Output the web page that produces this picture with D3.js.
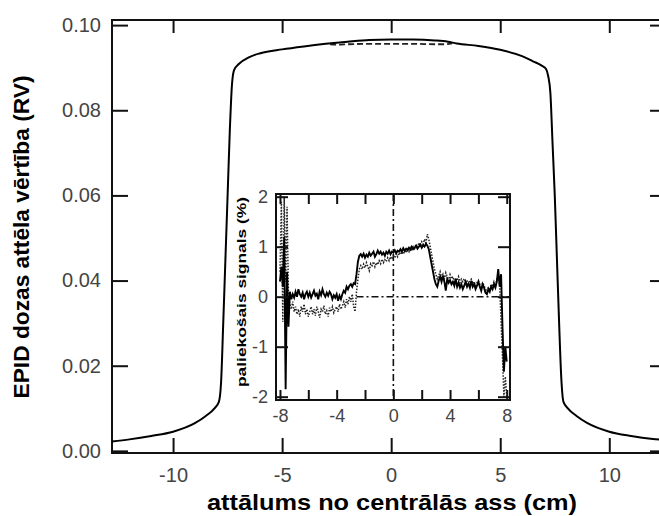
<!DOCTYPE html>
<html>
<head>
<meta charset="utf-8">
<script src="https://cdn.jsdelivr.net/npm/d3@7"></script>
<style>
  body { margin: 0; background: #fff; }
  text { font-family: "Liberation Sans", Arial, sans-serif; }
</style>
</head>
<body>
<svg id="chart" width="659" height="516"></svg>
<script>
// main profile (cm, RV)
const profileX = [-12.8, -12, -11, -10, -9, -8.5, -8.1, -7.9, -7.8, -7.7, -7.6, -7.5, -7.4, -7.3, -7.2, -7.0,
	-6.5, -6.0, -5.0, -4.0, -3.0, -2.0, -1.0, 0, 1.0, 2.0, 2.6, 3.0, 4.0, 5.0, 6.0, 6.5, 6.9, 7.1, 7.2, 7.3,
	7.4, 7.5, 7.6, 7.7, 7.8, 7.9, 8.1, 8.5, 9.0, 10.0, 11.0, 12.0, 12.7];
const profileSolid = [0.0022, 0.0027, 0.0035, 0.0045, 0.0065, 0.0082, 0.0100, 0.0115, 0.016, 0.030, 0.045, 0.060,
	0.075, 0.086, 0.0895, 0.0908, 0.0925, 0.0934, 0.0943, 0.0950, 0.0956, 0.0961, 0.0965, 0.0966, 0.0966, 0.0964,
	0.0961, 0.0957, 0.0951, 0.0942, 0.0927, 0.0915, 0.0905, 0.0897, 0.088, 0.084, 0.072, 0.060, 0.045, 0.030,
	0.017, 0.0115, 0.0100, 0.0082, 0.0065, 0.0045, 0.0035, 0.0028, 0.0025];
const dashX = [-2.8, -2.4, -2.0, -1.0, 0, 1.0, 2.0, 2.4, 2.8];
const profileDashed = [0.0955, 0.0954, 0.0955, 0.0956, 0.0956, 0.0956, 0.0955, 0.0955, 0.0957];

const mainXTicks = [-10, -5, 0, 5, 10];
const mainYTicks = [0, 0.02, 0.04, 0.06, 0.08, 0.10];

// inset: residual signal (%), sampled every 0.1 cm from -8 to 8
const insetSolid = [
	0.3, 0.6, 0.2, 1.2, -1.85, 0.5, -0.6, 0.1, -0.05, 0.05,
	-0.02, 0.1, 0.0, 0.15, 0.05, 0.0, 0.08, -0.05, 0.05, 0.1,
	0.0, 0.08, -0.02, 0.05, 0.12, 0.02, 0.06, -0.05, 0.1, 0.03,
	0.15, 0.05, 0.0, 0.08, 0.02, 0.1, 0.05, -0.05, 0.03, -0.02,
	0.05, -0.08, 0.02, -0.05, 0.05, 0.12, 0.08, 0.2, 0.15, 0.22,
	0.25, 0.2, 0.27, 0.25, 0.45, 0.7, 0.82, 0.85, 0.8, 0.86,
	0.78, 0.84, 0.8, 0.88, 0.82, 0.86, 0.9, 0.8, 0.85, 0.92,
	0.86, 0.9, 0.84, 0.88, 0.82, 0.9, 0.86, 0.92, 0.85, 0.9,
	0.88, 0.93, 0.87, 0.92, 0.9, 0.95, 0.9, 0.97, 0.92, 0.96,
	0.93, 0.98, 0.94, 1.0, 0.95, 0.98, 1.02, 0.96, 1.0, 1.04,
	0.98, 1.03, 1.0, 1.06, 1.02, 0.95, 0.8, 0.65, 0.5, 0.35,
	0.25, 0.2, 0.32, 0.4, 0.3, 0.42, 0.3, 0.12, 0.35, 0.28,
	0.33, 0.25, 0.3, 0.22, 0.35, 0.2, 0.28, 0.18, 0.25, 0.15,
	0.22, 0.3, 0.2, 0.26, 0.18, 0.32, 0.2, 0.25, 0.15, 0.22,
	0.3, 0.2, 0.12, 0.25, 0.18, 0.08, 0.05, 0.15, 0.1, 0.2,
	0.15, 0.25, 0.18, 0.3, 0.55, 0.2, 0.45, -0.6, -1.5, -1.0,
	-1.3];
const insetDotted = [
	0.5, 1.9, -0.5, 2.0, 0.3, 1.8, 0.0, -0.15, -0.25, -0.1,
	-0.3, -0.2, -0.35, -0.25, -0.4, -0.2, -0.3, -0.15, -0.35, -0.25,
	-0.4, -0.3, -0.2, -0.35, -0.25, -0.38, -0.2, -0.3, -0.42, -0.25,
	-0.3, -0.18, -0.35, -0.28, -0.4, -0.22, -0.3, -0.2, -0.32, -0.25,
	-0.2, -0.3, -0.15, -0.25, -0.18, -0.1, -0.22, -0.05, -0.15, 0.0,
	-0.1, 0.05, -0.2, -0.3, 0.1, 0.35, 0.55, 0.62, 0.55, 0.65,
	0.58, 0.68, 0.6, 0.52, 0.66, 0.62, 0.7, 0.6, 0.68, 0.64,
	0.72, 0.66, 0.75, 0.68, 0.74, 0.7, 0.78, 0.72, 0.8, 0.75,
	0.82, 0.78, 0.86, 0.8, 0.88, 0.84, 0.9, 0.85, 0.92, 0.88,
	0.95, 0.9, 0.98, 0.94, 1.0, 0.96, 1.05, 0.98, 1.08, 1.02,
	1.1, 1.05, 1.15, 1.08, 1.25, 1.15, 1.0, 0.85, 0.7, 0.55,
	0.45, 0.35, 0.42, 0.5, 0.38, 0.45, 0.35, 0.48, 0.4, 0.32,
	0.44, 0.36, 0.4, 0.3, 0.38, 0.32, 0.4, 0.28, 0.35, 0.3,
	0.36, 0.28, 0.33, 0.25, 0.32, 0.35, 0.26, 0.3, 0.22, 0.28,
	0.32, 0.25, 0.2, 0.28, 0.22, 0.15, 0.1, 0.18, 0.15, 0.25,
	0.2, 0.3, 0.22, 0.35, 0.4, 0.25, -0.5, -1.2, -2.0, -1.6,
	-2.0];
const insetX = d3.range(-80, 81).map(i => i / 10);

const insetXTicks = [-8, -6, -4, -2, 0, 2, 4, 6, 8];
const insetXLabels = [-8, -4, 0, 4, 8];
const insetYTicks = [-2, -1, 0, 1, 2];

const svg = d3.select('#chart');

function styleTicks(g, size) {
	g.selectAll('.tick line').attr('stroke', '#111').attr('stroke-width', 2);
	g.selectAll('.tick text')
		.attr('font-size', size)
		.attr('fill', '#444')
		.style('font-family', '"Liberation Sans", Arial, sans-serif');
}

function drawMain() {
	const x = d3.scaleLinear().domain([-12.8, 12.6]).range([112, 666]),
		y = d3.scaleLinear().domain([-0.0005, 0.1012]).range([453, 20]);

	const g = svg.append('g');

	g.append('rect')
		.attr('x', 112).attr('y', 20)
		.attr('width', 554).attr('height', 433)
		.attr('fill', 'none')
		.attr('stroke', '#111')
		.attr('stroke-width', 2);

	g.append('g')
		.attr('transform', 'translate(112,0)')
		.call(d3.axisLeft(y).tickValues(mainYTicks).tickSize(-16).tickPadding(11).tickFormat(d => d.toFixed(2)))
		.call(a => a.select('.domain').remove());
	g.append('g')
		.attr('transform', 'translate(666,0)')
		.call(d3.axisRight(y).tickValues(mainYTicks).tickSize(-16).tickFormat(''))
		.call(a => a.select('.domain').remove());
	g.append('g')
		.attr('transform', 'translate(0,453)')
		.call(d3.axisBottom(x).tickValues(mainXTicks).tickSize(-15).tickPadding(15).tickFormat(d => String(d)))
		.call(a => a.select('.domain').remove());
	g.append('g')
		.attr('transform', 'translate(0,20)')
		.call(d3.axisTop(x).tickValues(mainXTicks).tickSize(-13).tickFormat(''))
		.call(a => a.select('.domain').remove());

	styleTicks(g, '20px');

	const line = d3.line()
		.x(d => x(d[0]))
		.y(d => y(d[1]))
		.curve(d3.curveMonotoneX);

	g.append('path')
		.datum(dashX.map((v, i) => [v, profileDashed[i]]))
		.attr('d', line)
		.attr('fill', 'none')
		.attr('stroke', '#222')
		.attr('stroke-width', 1.8)
		.attr('stroke-dasharray', '6,3');

	g.append('path')
		.datum(profileX.map((v, i) => [v, profileSolid[i]]))
		.attr('d', line)
		.attr('fill', 'none')
		.attr('stroke', '#000')
		.attr('stroke-width', 2);

	svg.append('text')
		.attr('transform', 'translate(29,237) rotate(-90)')
		.attr('text-anchor', 'middle')
		.attr('font-size', '22px')
		.attr('font-weight', 'bold')
		.attr('textLength', 323)
		.attr('lengthAdjust', 'spacingAndGlyphs')
		.text('EPID dozas attēla vērtība (RV)');

	svg.append('text')
		.attr('x', 392)
		.attr('y', 510)
		.attr('text-anchor', 'middle')
		.attr('font-size', '22px')
		.attr('font-weight', 'bold')
		.attr('textLength', 370)
		.attr('lengthAdjust', 'spacingAndGlyphs')
		.text('attālums no centrālās ass (cm)');
}

function drawInset() {
	const x = d3.scaleLinear().domain([-8.28, 8.23]).range([276, 510]),
		y = d3.scaleLinear().domain([-2.066, 2.054]).range([400, 194]);

	const g = svg.append('g');

	g.append('rect')
		.attr('x', 276).attr('y', 194)
		.attr('width', 234).attr('height', 206)
		.attr('fill', '#fff');

	// dash-dot reference lines
	g.append('line')
		.attr('x1', x(0)).attr('x2', x(0))
		.attr('y1', 194).attr('y2', 400)
		.attr('stroke', '#111').attr('stroke-width', 1.6)
		.attr('stroke-dasharray', '7,3,2,3');
	g.append('line')
		.attr('x1', x(-2.6)).attr('x2', 510)
		.attr('y1', y(0)).attr('y2', y(0))
		.attr('stroke', '#111').attr('stroke-width', 1.6)
		.attr('stroke-dasharray', '7,3,2,3');

	const line = d3.line()
		.x((d, i) => x(insetX[i]))
		.y(d => y(d));

	g.append('path')
		.datum(insetDotted)
		.attr('d', line)
		.attr('fill', 'none')
		.attr('stroke', '#222')
		.attr('stroke-width', 1.5)
		.attr('stroke-dasharray', '1.5,1.5');

	g.append('path')
		.datum(insetSolid)
		.attr('d', line)
		.attr('fill', 'none')
		.attr('stroke', '#000')
		.attr('stroke-width', 1.9);

	g.append('g')
		.attr('transform', 'translate(276,0)')
		.call(d3.axisLeft(y).tickValues(insetYTicks).tickSize(-12).tickPadding(8).tickFormat(d => String(d)))
		.call(a => a.select('.domain').remove());
	g.append('g')
		.attr('transform', 'translate(510,0)')
		.call(d3.axisRight(y).tickValues(insetYTicks).tickSize(-12).tickFormat(''))
		.call(a => a.select('.domain').remove());
	g.append('g')
		.attr('transform', 'translate(0,400)')
		.call(d3.axisBottom(x).tickValues(insetXTicks).tickSize(-10).tickPadding(9)
			.tickFormat(d => insetXLabels.includes(d) ? String(d) : ''))
		.call(a => a.select('.domain').remove());
	g.append('g')
		.attr('transform', 'translate(0,194)')
		.call(d3.axisTop(x).tickValues(insetXTicks).tickSize(-10).tickFormat(''))
		.call(a => a.select('.domain').remove());

	styleTicks(g, '18px');

	g.append('rect')
		.attr('x', 276).attr('y', 194)
		.attr('width', 234).attr('height', 206)
		.attr('fill', 'none')
		.attr('stroke', '#111')
		.attr('stroke-width', 2);

	svg.append('text')
		.attr('transform', 'translate(246,292) rotate(-90)')
		.attr('text-anchor', 'middle')
		.attr('font-size', '13px')
		.attr('font-weight', 'bold')
		.attr('textLength', 190)
		.attr('lengthAdjust', 'spacingAndGlyphs')
		.text('paliekošais signals (%)');
}

drawMain();
drawInset();
</script>
</body>
</html>
